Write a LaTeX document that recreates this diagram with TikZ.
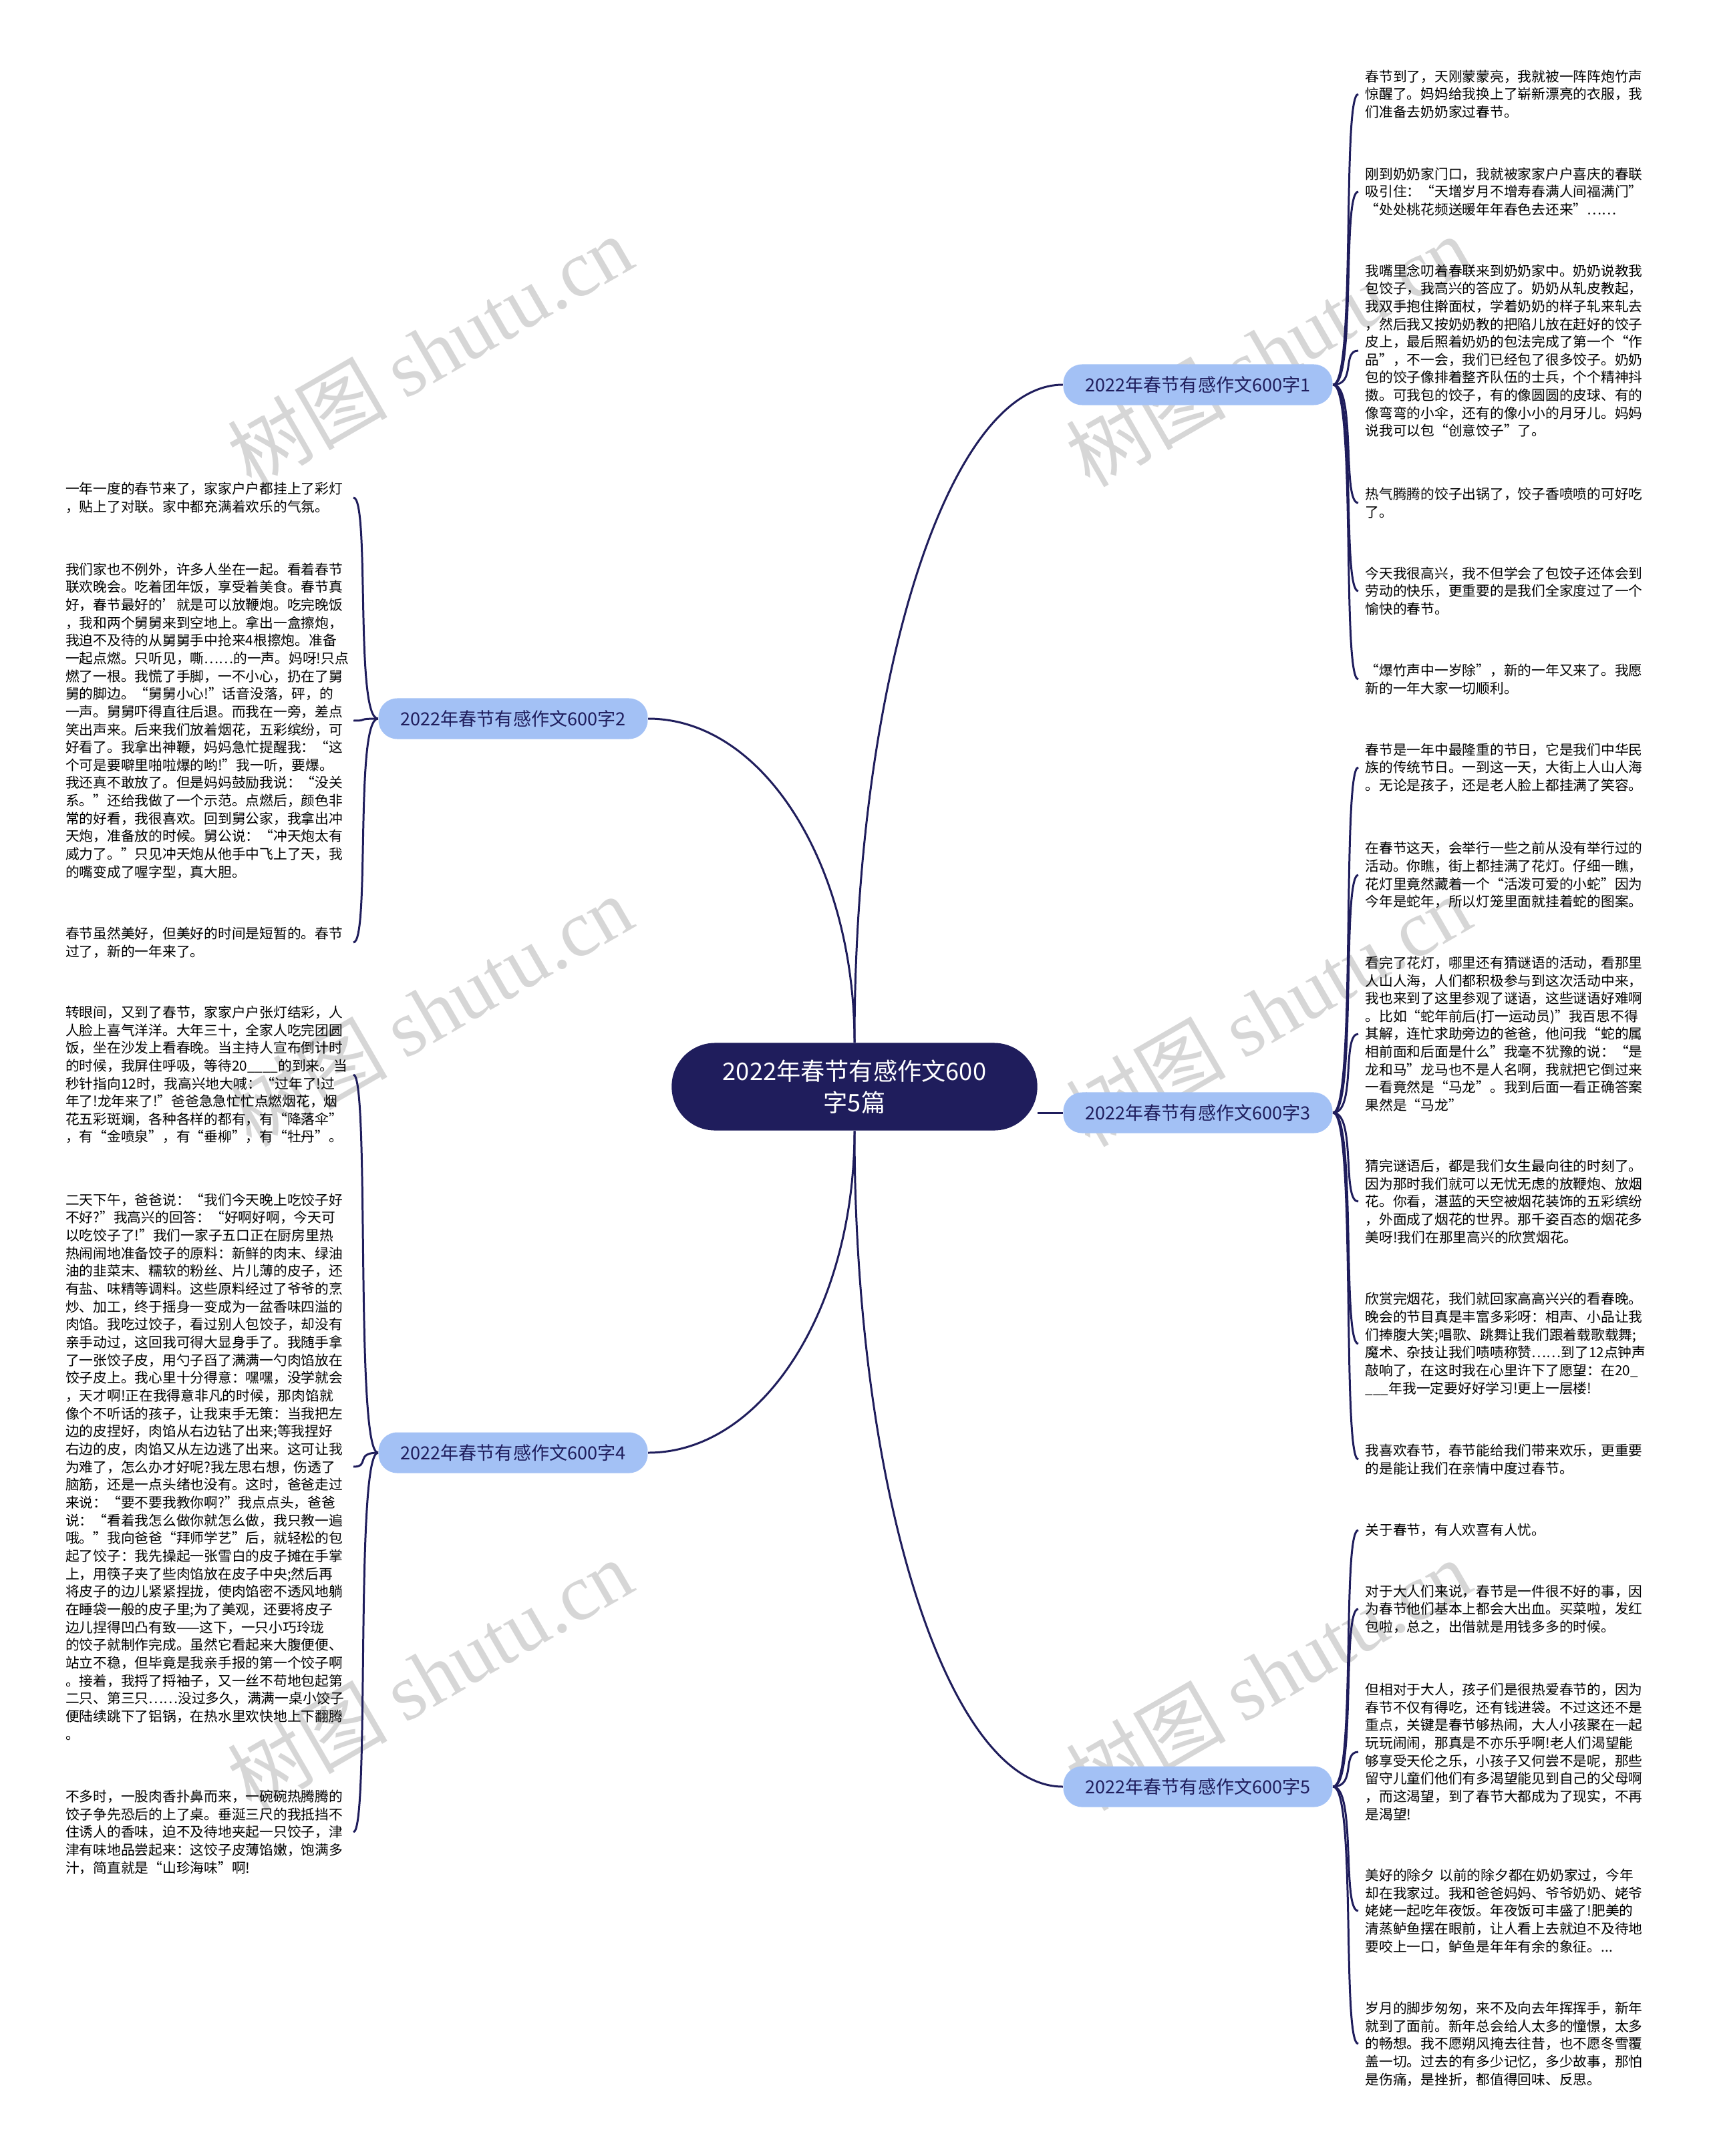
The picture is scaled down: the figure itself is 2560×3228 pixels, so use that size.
\documentclass[tikz,border=0pt]{standalone}
\usepackage{fontspec}
\setmainfont{Noto Sans CJK SC}
\newfontfamily\wmserif{Liberation Serif}
\definecolor{navy}{HTML}{1F1D5C}
\definecolor{branchblue}{HTML}{A3C1F5}
\definecolor{wmgray}{HTML}{D6D6D6}

\begin{document}
\begin{tikzpicture}[
  x=0.01cm, y=-0.01cm,
  root/.style={rectangle, fill=navy, rounded corners=0.65cm, minimum width=5.47cm, minimum height=1.31cm, align=center, text=white, font=\fontsize{10.3}{13.4}\selectfont},
  branch/.style={rectangle, fill=branchblue, rounded corners=0.28cm, minimum height=0.61cm, inner xsep=0.33cm, text=navy, font=\fontsize{7.7}{9}\selectfont},
  leafr/.style={anchor=west, text width=4.2cm, align=left, inner xsep=0.1cm, inner ysep=0pt, font=\fontsize{5.9}{7.58}\selectfont},
  leafl/.style={leafr, anchor=east},
  link/.style={draw=navy, line width=0.85pt},
  wmark/.style={text=wmgray, rotate=30, font=\fontsize{34}{34}\selectfont}
]
  \useasboundingbox (0,0) rectangle (2560,3228);

  % watermarks
  \foreach \wx in {643,1898}
    \foreach \wy in {525,1513,2507}
      \node[wmark] at (\wx,\wy) {树图 {\wmserif shutu.cn}};

  % centre and main topics
  \node[root] (root) at (1279,1627) {2022年春节有感作文600\\字5篇};
  \node[branch] (b1) at (1793,576) {2022年春节有感作文600字1};
  \node[branch] (b2) at (768,1076) {2022年春节有感作文600字2};
  \node[branch] (b3) at (1793,1666) {2022年春节有感作文600字3};
  \node[branch] (b4) at (768,2175) {2022年春节有感作文600字4};
  \node[branch] (b5) at (1793,2675) {2022年春节有感作文600字5};

  \draw[link] (root.north) .. controls +(0,-542) and +(-172,0) .. (b1.west);
  \draw[link] (root.north) .. controls +(0,-267) and +(172,0) .. (b2.east);
  \draw[link] (b3.west -| root.east) -- (b3.west);
  \draw[link] (root.south) .. controls +(0,265) and +(172,0) .. (b4.east);
  \draw[link] (root.south) .. controls +(0,540) and +(-172,0) .. (b5.west);

  % topic 1
  \node[leafr] (r1a) at (2033,141) {春节到了，天刚蒙蒙亮，我就被一阵阵炮竹声\\惊醒了。妈妈给我换上了崭新漂亮的衣服，我\\们准备去奶奶家过春节。};
  \node[leafr] (r1b) at (2033,287) {刚到奶奶家门口，我就被家家户户喜庆的春联\\吸引住：“天增岁月不增寿春满人间福满门”\\“处处桃花频送暖年年春色去还来”……};
  \node[leafr] (r1c) at (2033,525) {我嘴里念叨着春联来到奶奶家中。奶奶说教我\\包饺子，我高兴的答应了。奶奶从轧皮教起，\\我双手抱住擀面杖，学着奶奶的样子轧来轧去\\，然后我又按奶奶教的把陷儿放在赶好的饺子\\皮上，最后照着奶奶的包法完成了第一个“作\\品”，不一会，我们已经包了很多饺子。奶奶\\包的饺子像排着整齐队伍的士兵，个个精神抖\\擞。可我包的饺子，有的像圆圆的皮球、有的\\像弯弯的小伞，还有的像小小的月牙儿。妈妈\\说我可以包“创意饺子”了。};
  \node[leafr] (r1d) at (2033,753) {热气腾腾的饺子出锅了，饺子香喷喷的可好吃\\了。};
  \node[leafr] (r1e) at (2033,885) {今天我很高兴，我不但学会了包饺子还体会到\\劳动的快乐，更重要的是我们全家度过了一个\\愉快的春节。};
  \node[leafr] (r1f) at (2033,1017) {“爆竹声中一岁除”，新的一年又来了。我愿\\新的一年大家一切顺利。};
  \foreach \l in {r1a,r1b,r1c,r1d,r1e,r1f}
    \draw[link] (b1.east) .. controls +(35,0) and +(-25,0) .. (\l.west);

  % topic 2
  \node[leafl] (a1) at (529,745) {一年一度的春节来了，家家户户都挂上了彩灯\\，贴上了对联。家中都充满着欢乐的气氛。};
  \node[leafl] (a2) at (529,1079) {我们家也不例外，许多人坐在一起。看着春节\\联欢晚会。吃着团年饭，享受着美食。春节真\\好，春节最好的'就是可以放鞭炮。吃完晚饭\\，我和两个舅舅来到空地上。拿出一盒擦炮，\\我迫不及待的从舅舅手中抢来4根擦炮。准备\\一起点燃。只听见，嘶……的一声。妈呀!只点\\燃了一根。我慌了手脚，一不小心，扔在了舅\\舅的脚边。“舅舅小心!”话音没落，砰，的\\一声。舅舅吓得直往后退。而我在一旁，差点\\笑出声来。后来我们放着烟花，五彩缤纷，可\\好看了。我拿出神鞭，妈妈急忙提醒我：“这\\个可是要噼里啪啦爆的哟!”我一听，要爆。\\我还真不敢放了。但是妈妈鼓励我说：“没关\\系。”还给我做了一个示范。点燃后，颜色非\\常的好看，我很喜欢。回到舅公家，我拿出冲\\天炮，准备放的时候。舅公说：“冲天炮太有\\威力了。”只见冲天炮从他手中飞上了天，我\\的嘴变成了喔字型，真大胆。};
  \node[leafl] (a3) at (529,1411) {春节虽然美好，但美好的时间是短暂的。春节\\过了，新的一年来了。};
  \foreach \l in {a1,a2,a3}
    \draw[link] (b2.west) .. controls +(-35,0) and +(25,0) .. (\l.east);

  % topic 3
  \node[leafr] (r3a) at (2033,1149) {春节是一年中最隆重的节日，它是我们中华民\\族的传统节日。一到这一天，大街上人山人海\\。无论是孩子，还是老人脸上都挂满了笑容。};
  \node[leafr] (r3b) at (2033,1310) {在春节这天，会举行一些之前从没有举行过的\\活动。你瞧，街上都挂满了花灯。仔细一瞧，\\花灯里竟然藏着一个“活泼可爱的小蛇”因为\\今年是蛇年，所以灯笼里面就挂着蛇的图案。};
  \node[leafr] (r3c) at (2033,1548) {看完了花灯，哪里还有猜谜语的活动，看那里\\人山人海，人们都积极参与到这次活动中来，\\我也来到了这里参观了谜语，这些谜语好难啊\\。比如“蛇年前后(打一运动员)”我百思不得\\其解，连忙求助旁边的爸爸，他问我“蛇的属\\相前面和后面是什么”我毫不犹豫的说：“是\\龙和马”龙马也不是人名啊，我就把它倒过来\\一看竟然是“马龙”。我到后面一看正确答案\\果然是“马龙”};
  \node[leafr] (r3d) at (2033,1799) {猜完谜语后，都是我们女生最向往的时刻了。\\因为那时我们就可以无忧无虑的放鞭炮、放烟\\花。你看，湛蓝的天空被烟花装饰的五彩缤纷\\，外面成了烟花的世界。那千姿百态的烟花多\\美呀!我们在那里高兴的欣赏烟花。};
  \node[leafr] (r3e) at (2033,2012) {欣赏完烟花，我们就回家高高兴兴的看春晚。\\晚会的节目真是丰富多彩呀：相声、小品让我\\们捧腹大笑;唱歌、跳舞让我们跟着载歌载舞;\\魔术、杂技让我们啧啧称赞……到了12点钟声\\敲响了，在这时我在心里许下了愿望：在20\_\\\_\_\_年我一定要好好学习!更上一层楼!};
  \node[leafr] (r3f) at (2033,2185) {我喜欢春节，春节能给我们带来欢乐，更重要\\的是能让我们在亲情中度过春节。};
  \foreach \l in {r3a,r3b,r3c,r3d,r3e,r3f}
    \draw[link] (b3.east) .. controls +(35,0) and +(-25,0) .. (\l.west);

  % topic 4
  \node[leafl] (c1) at (529,1609) {转眼间，又到了春节，家家户户张灯结彩，人\\人脸上喜气洋洋。大年三十，全家人吃完团圆\\饭，坐在沙发上看春晚。当主持人宣布倒计时\\的时候，我屏住呼吸，等待20\_\_\_\_的到来。当\\秒针指向12时，我高兴地大喊：“过年了!过\\年了!龙年来了!”爸爸急急忙忙点燃烟花，烟\\花五彩斑斓，各种各样的都有，有“降落伞”\\，有“金喷泉”，有“垂柳”，有“牡丹”。};
  \node[leafl] (c2) at (529,2196) {二天下午，爸爸说：“我们今天晚上吃饺子好\\不好?”我高兴的回答：“好啊好啊，今天可\\以吃饺子了!”我们一家子五口正在厨房里热\\热闹闹地准备饺子的原料：新鲜的肉末、绿油\\油的韭菜末、糯软的粉丝、片儿薄的皮子，还\\有盐、味精等调料。这些原料经过了爷爷的烹\\炒、加工，终于摇身一变成为一盆香味四溢的\\肉馅。我吃过饺子，看过别人包饺子，却没有\\亲手动过，这回我可得大显身手了。我随手拿\\了一张饺子皮，用勺子舀了满满一勺肉馅放在\\饺子皮上。我心里十分得意：嘿嘿，没学就会\\，天才啊!正在我得意非凡的时候，那肉馅就\\像个不听话的孩子，让我束手无策：当我把左\\边的皮捏好，肉馅从右边钻了出来;等我捏好\\右边的皮，肉馅又从左边逃了出来。这可让我\\为难了，怎么办才好呢?我左思右想，伤透了\\脑筋，还是一点头绪也没有。这时，爸爸走过\\来说：“要不要我教你啊?”我点点头，爸爸\\说：“看着我怎么做你就怎么做，我只教一遍\\哦。”我向爸爸“拜师学艺”后，就轻松的包\\起了饺子：我先操起一张雪白的皮子摊在手掌\\上，用筷子夹了些肉馅放在皮子中央;然后再\\将皮子的边儿紧紧捏拢，使肉馅密不透风地躺\\在睡袋一般的皮子里;为了美观，还要将皮子\\边儿捏得凹凸有致——这下，一只小巧玲珑\\的饺子就制作完成。虽然它看起来大腹便便、\\站立不稳，但毕竟是我亲手报的第一个饺子啊\\。接着，我捋了捋袖子，又一丝不苟地包起第\\二只、第三只……没过多久，满满一桌小饺子\\便陆续跳下了铝锅，在热水里欢快地上下翻腾\\。};
  \node[leafl] (c3) at (529,2743) {不多时，一股肉香扑鼻而来，一碗碗热腾腾的\\饺子争先恐后的上了桌。垂涎三尺的我抵挡不\\住诱人的香味，迫不及待地夹起一只饺子，津\\津有味地品尝起来：这饺子皮薄馅嫩，饱满多\\汁，简直就是“山珍海味”啊!};
  \foreach \l in {c1,c2,c3}
    \draw[link] (b4.west) .. controls +(-35,0) and +(25,0) .. (\l.east);

  % topic 5
  \node[leafr] (r5a) at (2033,2291) {关于春节，有人欢喜有人忧。};
  \node[leafr] (r5b) at (2033,2409) {对于大人们来说，春节是一件很不好的事，因\\为春节他们基本上都会大出血。买菜啦，发红\\包啦，总之，出借就是用钱多多的时候。};
  \node[leafr] (r5c) at (2033,2623) {但相对于大人，孩子们是很热爱春节的，因为\\春节不仅有得吃，还有钱进袋。不过这还不是\\重点，关键是春节够热闹，大人小孩聚在一起\\玩玩闹闹，那真是不亦乐乎啊!老人们渴望能\\够享受天伦之乐，小孩子又何尝不是呢，那些\\留守儿童们他们有多渴望能见到自己的父母啊\\，而这渴望，到了春节大都成为了现实，不再\\是渴望!};
  \node[leafr] (r5d) at (2033,2861) {美好的除夕 以前的除夕都在奶奶家过，今年\\却在我家过。我和爸爸妈妈、爷爷奶奶、姥爷\\姥姥一起吃年夜饭。年夜饭可丰盛了!肥美的\\清蒸鲈鱼摆在眼前，让人看上去就迫不及待地\\要咬上一口，鲈鱼是年年有余的象征。...};
  \node[leafr] (r5e) at (2033,3060) {岁月的脚步匆匆，来不及向去年挥挥手，新年\\就到了面前。新年总会给人太多的憧憬，太多\\的畅想。我不愿朔风掩去往昔，也不愿冬雪覆\\盖一切。过去的有多少记忆，多少故事，那怕\\是伤痛，是挫折，都值得回味、反思。};
  \foreach \l in {r5a,r5b,r5c,r5d,r5e}
    \draw[link] (b5.east) .. controls +(35,0) and +(-25,0) .. (\l.west);
\end{tikzpicture}
\end{document}
